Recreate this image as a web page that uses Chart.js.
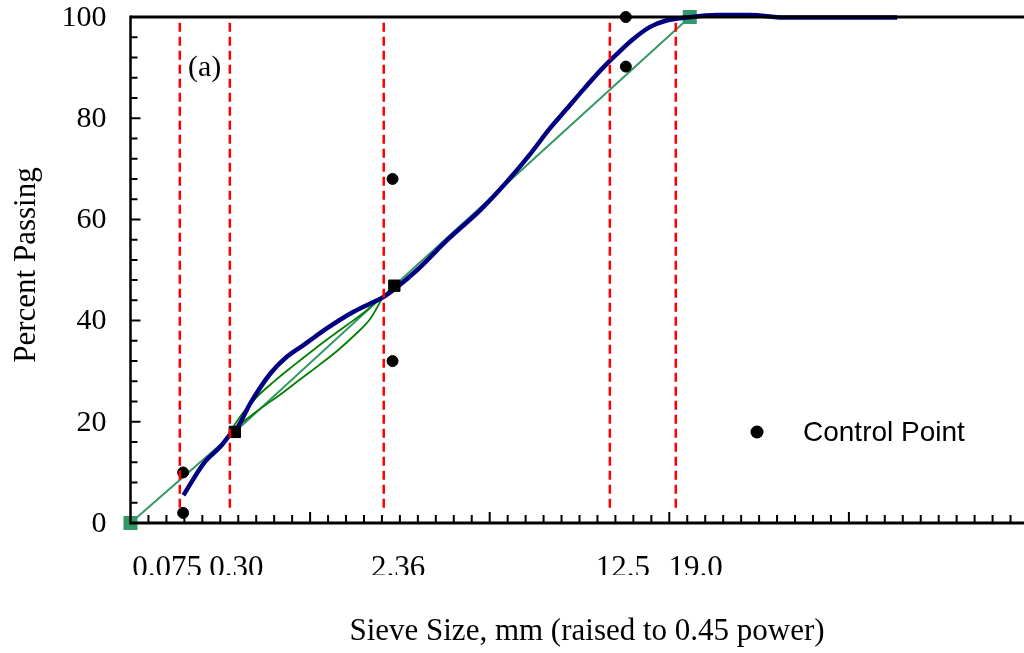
<!DOCTYPE html>
<html lang="en">
<head>
<meta charset="UTF-8">
<title>Gradation Chart</title>
<script src="https://cdn.jsdelivr.net/npm/chart.js@4.4.0/dist/chart.umd.min.js"></script>
<style>
  body { margin: 0; background: #fff; }
  #wrap { width: 1024px; height: 653px; }
</style>
</head>
<body>
<div id="wrap"><canvas id="gradChart" width="1024" height="653"></canvas></div>
<script>
// x = sieve size raised to 0.45 power, y = percent passing
var blueX = [0.295, 0.408, 0.501, 0.557, 0.594, 0.668, 0.780, 0.872, 0.965, 1.095, 1.225, 1.336, 1.410, 1.476, 1.596, 1.763, 1.949, 2.097, 2.223, 2.335, 2.428, 2.520, 2.613, 2.706, 2.798, 2.891, 2.984, 3.096, 3.267, 3.452, 3.636, 4.269];
var blueY = [5.5, 11.8, 15.1, 17.6, 18.8, 23.7, 29.6, 32.9, 35.2, 38.5, 41.4, 43.4, 44.7, 46.4, 50.0, 55.9, 61.9, 67.5, 72.8, 78.0, 81.8, 85.6, 89.3, 92.6, 95.6, 98.0, 99.3, 99.9, 100.4, 100.4, 99.9, 99.9];

// maximum density line and its marked points
var maxX = [0, 0.581, 1.469, 3.114];
var maxY = [0, 18.0, 46.9, 100];

// the two thin green curves between 0.30 and 2.36
var upperX = [0.553, 0.62, 0.70, 0.80, 0.90, 1.00, 1.10, 1.20, 1.30, 1.41];
var upperY = [18.0, 21.5, 24.8, 28.0, 30.9, 33.7, 36.4, 39.0, 41.6, 45.0];
var lowerX = [0.553, 0.62, 0.70, 0.85, 0.96, 1.05, 1.15, 1.25, 1.334, 1.41];
var lowerY = [18.0, 19.8, 22.0, 25.8, 28.8, 31.2, 34.0, 37.2, 40.3, 45.0];

// control points
var cpX = [0.293, 0.293, 1.459, 1.459, 2.758, 2.758];
var cpY = [10, 2, 68, 32, 100, 90.2];

// red dashed sieve lines
var sieveLineX = [0.2745, 0.553, 1.410, 2.669, 3.036];
var sieveLabels = ['0.075', '0.30', '2.36', '12.5', '19.0'];
var sieveLabelX = [0.204, 0.590, 1.490, 2.742, 3.146];

var yTicks = [0, 20, 40, 60, 80, 100];

function pts(xs, ys) {
    return xs.map(function (x, i) { return { x: x, y: ys[i] }; });
}

var datasets = [];
sieveLineX.forEach(function (x) {
    datasets.push({
        data: [{ x: x, y: 3 }, { x: x, y: 100 }],
        showLine: true, borderColor: '#ff0000', borderWidth: 2.5,
        borderDash: [9, 5], pointRadius: 0, order: 0, clip: false
    });
});
datasets.push({
    label: 'Control Point', data: pts(cpX, cpY), showLine: false,
    pointRadius: 5.5, pointBackgroundColor: '#000', pointBorderColor: '#000',
    order: 1, clip: false
});
datasets.push({
    data: pts(maxX, maxY).slice(1, 3), showLine: false, pointStyle: 'rect',
    pointRadius: 8, pointBackgroundColor: '#000', pointBorderColor: '#000',
    pointBorderWidth: 1, order: 2, clip: false
});
datasets.push({
    data: pts(blueX, blueY), showLine: true, borderColor: '#000080',
    borderWidth: 4.5, pointRadius: 0, cubicInterpolationMode: 'monotone',
    order: 3, clip: false
});
datasets.push({
    data: pts(upperX, upperY), showLine: true, borderColor: '#008000',
    borderWidth: 1.8, pointRadius: 0, cubicInterpolationMode: 'monotone', order: 4, clip: false
});
datasets.push({
    data: pts(lowerX, lowerY), showLine: true, borderColor: '#008000',
    borderWidth: 1.8, pointRadius: 0, cubicInterpolationMode: 'monotone', order: 4, clip: false
});
datasets.push({
    data: pts(maxX, maxY), showLine: true, borderColor: '#339966',
    borderWidth: 2, pointRadius: function (c) { return (c.dataIndex === 0 || c.dataIndex === 3) ? 8.5 : 0; },
    pointStyle: 'rect', pointBackgroundColor: '#339966', pointBorderColor: '#339966',
    order: 5, clip: false
});

var decor = {
    id: 'decor',
    afterDraw: function (chart) {
        var ctx = chart.ctx, a = chart.chartArea;
        var xs = chart.scales.x, ys = chart.scales.y;
        ctx.save();
        ctx.strokeStyle = '#000';
        // axis lines
        ctx.lineWidth = 3;
        ctx.beginPath();
        ctx.moveTo(a.left, a.top); ctx.lineTo(chart.width, a.top);
        ctx.moveTo(a.left, a.bottom); ctx.lineTo(chart.width, a.bottom);
        ctx.stroke();
        ctx.lineWidth = 2.5;
        ctx.beginPath();
        ctx.moveTo(a.left, a.top - 1.5); ctx.lineTo(a.left, a.bottom + 1.5);
        ctx.stroke();
        // inward ticks
        ctx.lineWidth = 2;
        ctx.beginPath();
        for (var i = 1; i <= 49; i++) {
            var px = xs.getPixelForValue(i / 10);
            var len = i % 10 === 0 ? 11 : 8;
            ctx.moveTo(px, a.bottom); ctx.lineTo(px, a.bottom - len);
        }
        for (var j = 4; j < 100; j += 4) {
            var py = ys.getPixelForValue(j);
            var ylen = j % 20 === 0 ? 10 : 7;
            ctx.moveTo(a.left, py); ctx.lineTo(a.left + ylen, py);
        }
        ctx.stroke();

        ctx.fillStyle = '#000';
        // y tick labels
        ctx.font = '30px "Liberation Serif"';
        ctx.textAlign = 'right';
        ctx.textBaseline = 'middle';
        yTicks.forEach(function (v) {
            ctx.fillText(String(v), a.left - 24, ys.getPixelForValue(v) + 1);
        });

        // sieve labels, cut off at the bottom as in the original
        ctx.save();
        ctx.beginPath();
        ctx.rect(0, 540, chart.width, 35);
        ctx.clip();
        ctx.font = '31px "Liberation Serif"';
        ctx.textAlign = 'center';
        ctx.textBaseline = 'alphabetic';
        sieveLabels.forEach(function (t, k) {
            ctx.fillText(t, xs.getPixelForValue(sieveLabelX[k]), 577);
        });
        ctx.restore();

        // axis titles
        ctx.font = '31px "Liberation Serif"';
        ctx.textAlign = 'center';
        ctx.textBaseline = 'middle';
        ctx.fillText('Sieve Size, mm (raised to 0.45 power)', 587, 632);
        ctx.save();
        ctx.translate(27, 265);
        ctx.rotate(-Math.PI / 2);
        ctx.fillText('Percent Passing', 0, 0);
        ctx.restore();

        // panel tag
        ctx.font = '30px "Liberation Serif"';
        ctx.textAlign = 'left';
        ctx.textBaseline = 'alphabetic';
        ctx.fillText('(a)', 188, 76);

        // legend
        ctx.beginPath();
        ctx.arc(757, 432, 6.5, 0, Math.PI * 2);
        ctx.fill();
        ctx.font = '28px "Liberation Sans"';
        ctx.fillText('Control Point', 803, 441);
        ctx.restore();
    }
};

new Chart(document.getElementById('gradChart'), {
    type: 'scatter',
    data: { datasets: datasets },
    options: {
        responsive: false,
        animation: false,
        layout: { autoPadding: false, padding: { top: 17, right: 0, left: 0, bottom: 0 } },
        plugins: { legend: { display: false }, tooltip: { enabled: false } },
        scales: {
            x: {
                type: 'linear', min: 0, max: 4.975,
                ticks: { display: false },
                grid: { display: false, drawTicks: false },
                border: { display: false },
                afterFit: function (s) { s.height = 130; }
            },
            y: {
                min: 0, max: 100,
                ticks: { display: false },
                grid: { display: false, drawTicks: false },
                border: { display: false },
                afterFit: function (s) { s.width = 130.5; }
            }
        }
    },
    plugins: [decor]
});
</script>
</body>
</html>
